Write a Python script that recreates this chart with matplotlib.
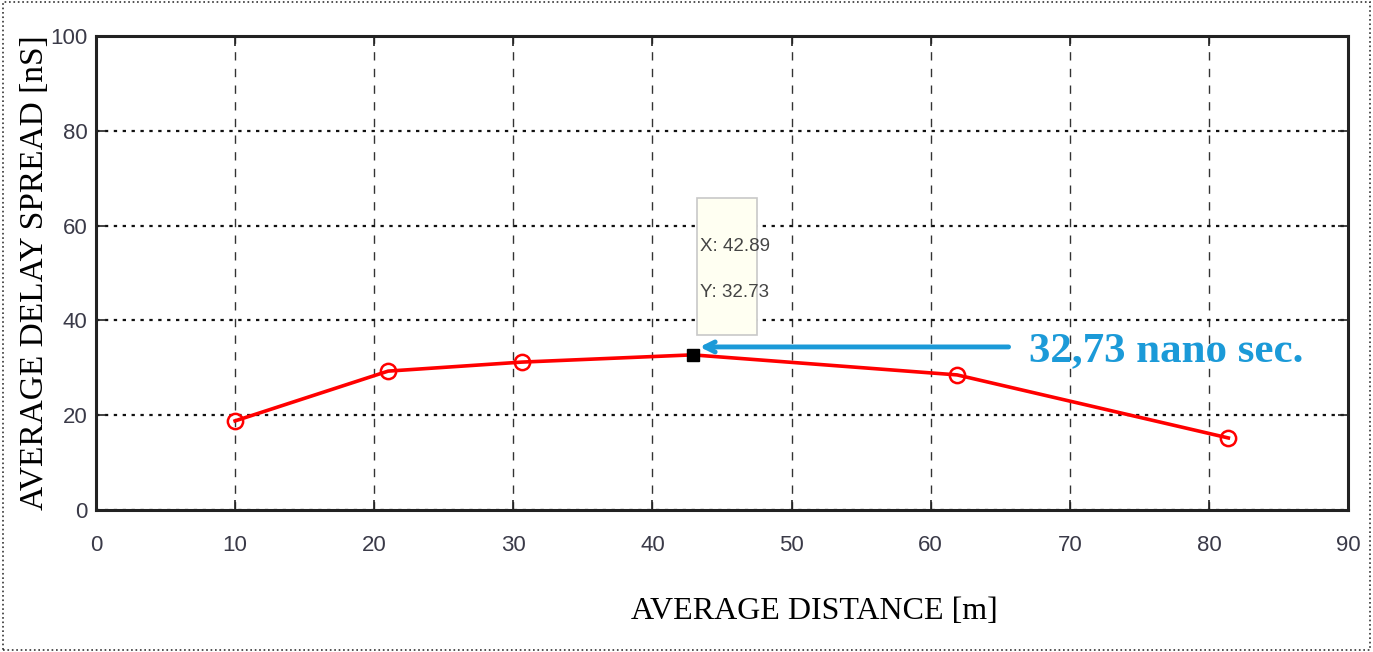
import matplotlib.pyplot as plt
from matplotlib.patches import Rectangle

# Data
distance = [10.0, 21.0, 30.6, 42.89, 61.9, 81.4]
delay_spread = [18.8, 29.3, 31.2, 32.73, 28.5, 15.2]
marked = [0, 1, 2, 4, 5]  # points drawn with circle markers

tip_x = 42.89
tip_y = 32.73
x_ticks = [0, 10, 20, 30, 40, 50, 60, 70, 80, 90]
y_ticks = [0, 20, 40, 60, 80, 100]

plt.rcParams['font.family'] = ['Liberation Serif', 'DejaVu Serif']

fig = plt.figure(figsize=(13.73, 6.52), dpi=100)
ax = fig.add_axes([96 / 1373, 1 - 510 / 652, 1252 / 1373, 474 / 652])

# dotted frame around the whole figure
fig.patches.append(Rectangle((0.002, 0.003), 0.996, 0.994, transform=fig.transFigure,
                             fill=False, linestyle=':', linewidth=1.2, edgecolor='#333333'))

ax.plot(distance, delay_spread, color='red', linewidth=2.6, marker='o',
        markersize=11, markerfacecolor='none', markeredgewidth=1.8,
        markevery=marked, zorder=3)

# datatip
ax.plot([tip_x], [tip_y], marker='s', color='black', markersize=8, zorder=4)
ax.add_patch(Rectangle((43.2, 36.9), 4.3, 28.9, facecolor='#fffff2',
                       edgecolor='#c8c8c8', linewidth=1.2, zorder=5))
ax.text(43.45, 50.7, f"X: {tip_x:.2f}\n\nY: {tip_y:.2f}", fontsize=13.5, linespacing=1.45,
        family='Liberation Sans', color='#444444', va='center', ha='left', zorder=6)

# blue arrow + annotation
ax.annotate('', xy=(43.2, 34.4), xytext=(65.8, 34.4),
            arrowprops=dict(arrowstyle='->', color='#1b9ad8', lw=3.5,
                            mutation_scale=18), zorder=6)
ax.text(67.1, 33.6, '32,73 nano sec.', fontsize=31, fontweight='bold',
        color='#1b9ad8', va='center', ha='left', zorder=6)

ax.set_xlim(0, 90)
ax.set_ylim(0, 100)
ax.set_xticks(x_ticks)
ax.set_yticks(y_ticks)
ax.tick_params(direction='in', length=7, width=1.2, labelsize=16, colors='#222222',
               top=True, right=True)
ax.tick_params(axis='x', pad=18)
ax.tick_params(axis='y', pad=6)
for lbl in ax.get_xticklabels() + ax.get_yticklabels():
    lbl.set_family('Liberation Sans')
    lbl.set_color('#3a3a48')

ax.xaxis.grid(True, linestyle=(0, (6, 6)), color='#333333', linewidth=1.0)
ax.yaxis.grid(True, linestyle=(0, (1.5, 2.5)), color='#111111', linewidth=1.6)
ax.set_axisbelow(True)

for s in ax.spines.values():
    s.set_linewidth(2.2)
    s.set_color('#222222')

ax.set_xlabel('AVERAGE DISTANCE [m]', fontsize=23)
ax.set_ylabel('AVERAGE DELAY SPREAD [nS]', fontsize=24)
ax.xaxis.set_label_coords(0.574, -0.184)
ax.yaxis.set_label_coords(-0.037, 0.5)

fig.savefig('out.png', dpi=100)
